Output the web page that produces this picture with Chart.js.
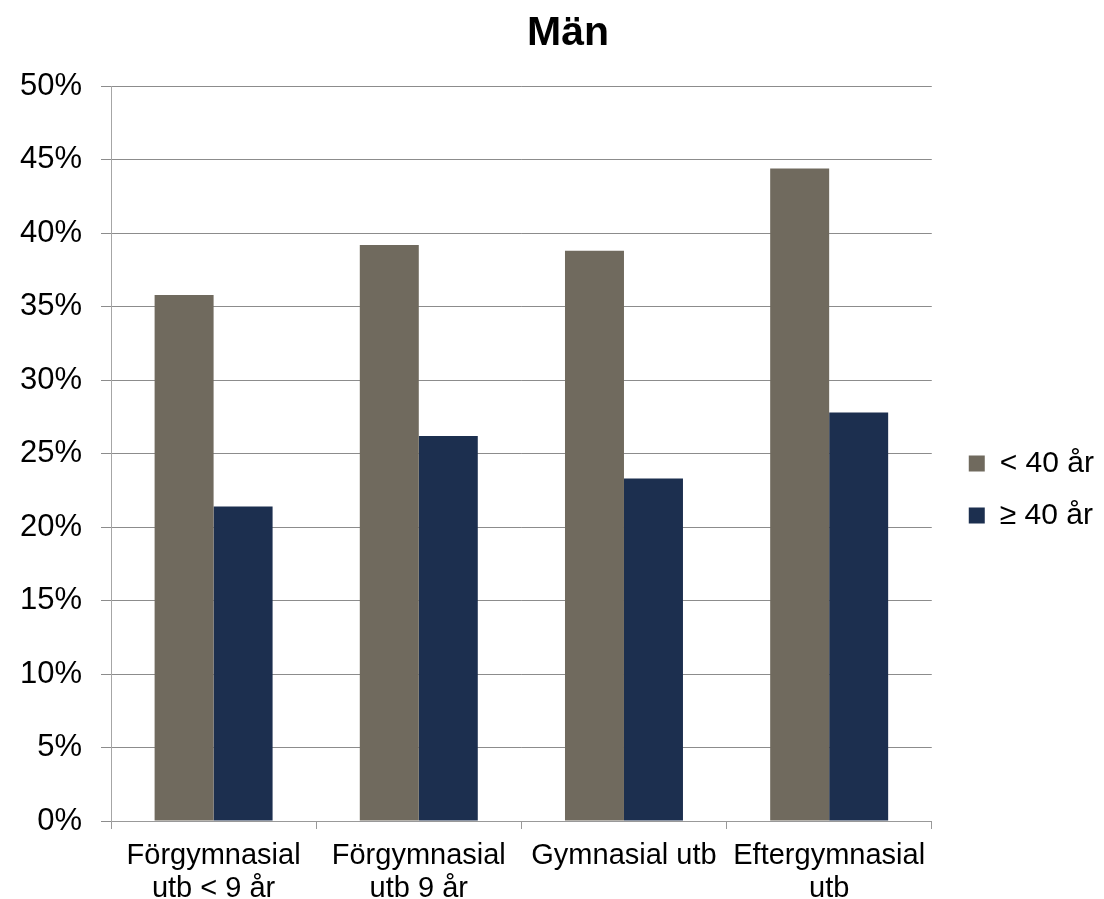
<!DOCTYPE html>
<html>
<head>
<meta charset="utf-8">
<script src="https://cdn.jsdelivr.net/npm/chart.js@4/dist/chart.umd.min.js"></script>
<style>
  html, body { margin: 0; padding: 0; background: #fff; }
  #wrap { width: 1104px; height: 899px; }
</style>
</head>
<body>
<div id="wrap"><canvas id="menChart" width="1104" height="899"></canvas></div>
<script>
// categories and values (percent)
const categories = [
    ['Förgymnasial', 'utb < 9 år'],
    ['Förgymnasial', 'utb 9 år'],
    'Gymnasial utb',
    ['Eftergymnasial', 'utb']
];
const under40 = [35.8, 39.2, 38.8, 44.4];
const over40 = [21.4, 26.2, 23.3, 27.8];
const seriesNames = ['< 40 år', '≥ 40 år'];

const FONT = 'Liberation Sans, Arial, sans-serif';

document.addEventListener('DOMContentLoaded', function () {
    const ctx = document.getElementById('menChart').getContext('2d');
    const menChart = new Chart(ctx, {
        type: 'bar',
        data: {
            labels: categories,
            datasets: [{
                label: seriesNames[0],
                data: under40,
                backgroundColor: '#706a5e',
                borderWidth: 0
            }, {
                label: seriesNames[1],
                data: over40,
                backgroundColor: '#1c2f4f',
                borderWidth: 0
            }]
        },
        options: {
            responsive: false,
            animation: false,
            layout: {
                // left padding only moves the title right, like the original
                padding: { left: 32, right: 0, top: 0, bottom: 0 }
            },
            datasets: {
                bar: { categoryPercentage: 0.575, barPercentage: 1.0 }
            },
            plugins: {
                title: {
                    display: true,
                    text: 'Män',
                    color: '#000',
                    font: { family: FONT, size: 41, weight: 'bold' },
                    padding: { top: 9, bottom: 28 }
                },
                legend: {
                    position: 'right',
                    // empty title only pushes the items down to where they sit in the original
                    title: { display: true, text: ' ', font: { size: 10 }, padding: { top: 34, bottom: 34 } },
                    labels: {
                        color: '#000',
                        boxWidth: 16,
                        boxHeight: 16,
                        padding: 22,
                        font: { family: FONT, size: 30 }
                    }
                },
                tooltip: { enabled: false }
            },
            scales: {
                x: {
                    afterFit: function (scale) { scale.height = 78; },
                    grid: {
                        display: true,
                        drawOnChartArea: false,
                        drawTicks: true,
                        tickLength: 8,
                        color: '#999',
                        offset: true
                    },
                    border: { color: '#999', width: 1 },
                    ticks: {
                        color: '#000',
                        padding: 10,
                        maxRotation: 0,
                        font: { family: FONT, size: 29, lineHeight: 1.14 }
                    }
                },
                y: {
                    min: 0,
                    max: 50,
                    afterFit: function (scale) { scale.width = 79; },
                    grid: {
                        color: '#8c8c8c',
                        tickLength: 10
                    },
                    border: { color: '#a6a6a6', width: 1 },
                    ticks: {
                        stepSize: 5,
                        color: '#000',
                        // mirrored + negative padding puts labels back outside without clipping
                        mirror: true,
                        crossAlign: 'far',
                        padding: -91,
                        font: { family: FONT, size: 31 },
                        callback: function (value) { return value + '%'; }
                    }
                },
                // spacer between plot and legend
                gap: {
                    type: 'linear',
                    position: 'right',
                    afterFit: function (scale) { scale.width = 15; },
                    grid: { display: false },
                    border: { display: false },
                    ticks: { display: false }
                }
            }
        }
    });
});
</script>
</body>
</html>
